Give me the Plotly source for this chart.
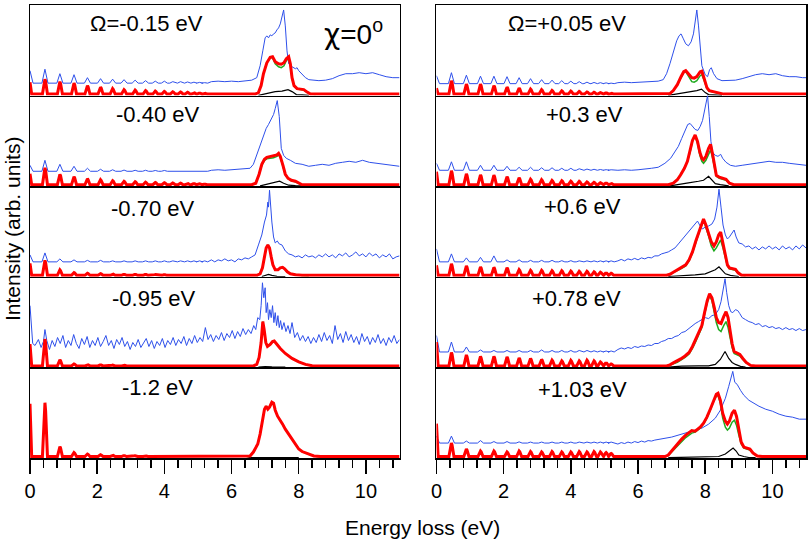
import plotly.graph_objects as go
from plotly.subplots import make_subplots

# ---------------- data (heights in panel units, panel height = 91) ----------------
vib_energy = [0.445, 0.89, 1.31, 1.71, 2.10, 2.46, 2.80, 3.13, 3.44, 3.73, 4.00, 4.25, 4.48, 4.69, 4.88, 5.05, 5.20]

labels = ["Ω=-0.15 eV", "-0.40 eV", "-0.70 eV", "-0.95 eV", "-1.2 eV",
          "Ω=+0.05 eV", "+0.3 eV", "+0.6 eV", "+0.78 eV", "+1.03 eV"]
label_px = [(147, 22), (158, 113), (153, 207), (154, 298), (158, 387),
            (568, 22), (585, 113), (583, 205), (577, 298), (583, 389)]

red_elastic = [12, 11, 12, 22, 53, 6, 13, 10, 24, 33]
blue_elastic = [25, 21, 22, None, None, 20, 23, 28, 32, 22]
blue_base = [12.5, 15, 15, None, None, 12, 16, 15, 15.5, 15]

red_vib_p1 = [15, 12.5, 11, 8.5, 7, 5.5, 4.5, 4, 3.5, 3, 2.7, 2.4, 2.1, 1.8, 1.4, 1.1, 0.8]
red_vib_p2 = [17, 10.5, 8, 6, 5, 4, 3.3, 3, 2.5, 2.2, 2, 1.7, 1.5, 1.2, 1, 0.8, 0.6]
red_vib_p3 = [15, 5.5, 2.7, 2, 1.6, 1.3, 1.1, 1, 0.9, 0.8, 0.7, 0.6, 0.5, 0.4, 0.3, 0.3, 0.2]
red_vib_p4 = [27, 6, 2, 1.3, 1, 0.8, 0.7, 0.6, 0.5, 0.4, 0.4, 0.3, 0.3, 0.2, 0.2, 0.2, 0.1]
red_vib_p5 = [54, 10, 4, 2.5, 1.8, 1.3, 1, 0.8, 0.6, 0.5, 0.4, 0.3, 0.3, 0.2, 0.2, 0.1, 0.1]
red_vib_p6 = [13.5, 10, 10, 8.5, 7, 6, 5, 4.5, 3.7, 3.3, 3, 2.7, 2.2, 1.8, 1.5, 1.2, 0.8]
red_vib_p7 = [14, 11, 10, 9.5, 8, 7, 5.5, 5, 4.3, 4, 3.5, 3.3, 2.8, 2.3, 2, 1.6, 1.2]
red_vib_p8 = [11.5, 9.5, 8.5, 8, 7.5, 5.7, 5, 5, 4.5, 4.5, 4.2, 4, 4, 3.5, 3, 2.5, 2]
red_vib_p9 = [13.5, 11, 9.5, 9.5, 9, 8, 7.5, 6.5, 5.7, 5, 5.5, 5, 5.7, 5, 4, 3, 2]
red_vib_p10 = [13.5, 7.5, 5.5, 5.5, 4.5, 5.5, 5, 4.5, 5, 4.5, 4.5, 5, 4.5, 5, 4.5, 4, 3]

blue_amp_p1 = [14, 9.5, 8.5, 5.5, 4.5, 4, 3.5, 3, 2.5, 2, 2, 1.5, 1.5, 1.2, 1, 0.8, 0.5]
blue_amp_p2 = [11, 7, 5, 3, 2, 1.5, 1.2, 1, 1, 0.8, 0.8, 0.6, 0.5, 0.5, 0.4, 0.3, 0.2]
blue_amp_p3 = [9, 3, 2, 1.5, 1.5, 1, 1, 1, 1, 1, 1, 1, 1, 1, 1, 1, 1]
blue_amp_p6 = [11, 8.5, 7.5, 7.5, 7, 6, 5, 4, 3.5, 3, 2.5, 2, 1.5, 1.2, 1, 0.8, 0.5]
blue_amp_p7 = [8.5, 8.5, 5, 5, 4, 3, 3, 2.5, 2.5, 2, 2, 1.5, 1.2, 1, 0.8, 0.6, 0.5]
blue_amp_p8 = [8, 4, 4.5, 6, 2, 2, 1.5, 1.5, 1.5, 1.2, 1.2, 1, 1, 1, 1, 1, 1]
blue_amp_p9 = [10, 5, 2, 1.5, 1.5, 1.5, 1.5, 2, 1.5, 1.5, 1.5, 1.5, 1.5, 1.2, 1, 1, 1]
blue_amp_p10 = [7, 2, 2.5, 1.5, 1.5, 1.2, 1, 1, 1, 1, 1, 1, 1, 1, 1, 1, 1]

blue_band_p1 = [[5.4,14],[5.6,14.5],[5.8,14],[6.0,14.5],[6.2,14],[6.4,15],[6.6,15.5],[6.75,18],[6.85,30],[6.93,45],[7.0,58],[7.05,60],[7.1,58],[7.15,61],[7.2,60],[7.25,62],[7.3,63],[7.35,66],[7.4,68],[7.45,72],[7.5,78],[7.55,86],[7.6,70],[7.65,45],[7.7,32],[7.75,30],[7.8,29],[7.9,27],[7.95,28],[8.0,25],[8.1,21],[8.2,18],[8.3,16],[8.4,15.5],[8.6,15],[8.8,15.5],[9.0,17],[9.2,20],[9.4,22],[9.6,22],[9.8,23],[10.0,22],[10.2,23],[10.4,21],[10.6,19],[10.8,18],[11.0,18]]
blue_band_p2 = [[5.4,16],[5.6,16.5],[5.8,16],[6.0,16.5],[6.2,17],[6.4,17.5],[6.55,18],[6.65,22],[6.75,32],[6.85,42],[6.95,50],[7.03,58],[7.1,62],[7.18,68],[7.25,72],[7.3,78],[7.36,86],[7.42,70],[7.48,38],[7.55,31],[7.63,28],[7.75,26],[7.9,23],[8.1,22],[8.3,20],[8.5,21],[8.7,22],[8.9,21],[9.1,23],[9.3,24],[9.5,25],[9.7,24],[9.9,26],[10.1,24],[10.3,23],[10.5,22],[10.7,21],[10.9,20],[11.0,20]]
blue_band_p3 = [[5.4,17],[5.5,15],[5.6,17],[5.7,16],[5.8,18],[5.9,16],[6.0,17],[6.1,15],[6.2,18],[6.3,17],[6.4,19],[6.5,18],[6.6,20],[6.7,22],[6.8,32],[6.9,42],[6.98,55],[7.04,62],[7.08,75],[7.1,70],[7.13,87],[7.16,72],[7.2,55],[7.25,40],[7.3,34],[7.36,36],[7.42,33],[7.5,32],[7.6,26],[7.7,23],[7.8,22],[7.9,20],[8.0,21],[8.1,19],[8.2,22],[8.3,20],[8.4,21],[8.5,19],[8.6,22],[8.7,20],[8.8,23],[8.9,20],[9.0,22],[9.1,19],[9.2,23],[9.3,21],[9.4,24],[9.5,20],[9.6,22],[9.7,25],[9.8,21],[9.9,23],[10.0,20],[10.1,24],[10.2,21],[10.3,23],[10.4,19],[10.5,22],[10.6,20],[10.7,23],[10.8,18],[10.9,20],[11.0,21]]
blue_p4 = [[0,62],[0.04,40],[0.08,24],[0.15,22],[0.25,28],[0.33,20],[0.4,26],[0.445,38],[0.5,27],[0.58,18],[0.66,27],[0.74,21],[0.82,30],[0.9,24],[0.98,32],[1.06,20],[1.14,27],[1.22,22],[1.3,33],[1.38,24],[1.46,19],[1.54,29],[1.62,23],[1.7,31],[1.78,20],[1.86,27],[1.94,22],[2.02,30],[2.1,21],[2.18,26],[2.26,32],[2.34,22],[2.42,27],[2.5,19],[2.58,28],[2.66,23],[2.74,30],[2.82,21],[2.9,26],[2.98,18],[3.06,25],[3.14,21],[3.22,28],[3.3,20],[3.38,24],[3.46,29],[3.54,21],[3.62,27],[3.7,19],[3.78,26],[3.86,22],[3.94,29],[4.02,20],[4.1,27],[4.18,23],[4.26,30],[4.34,22],[4.42,28],[4.5,24],[4.58,31],[4.66,22],[4.74,29],[4.82,24],[4.9,32],[4.98,25],[5.06,30],[5.14,26],[5.22,40],[5.3,28],[5.38,33],[5.46,26],[5.54,32],[5.62,28],[5.7,35],[5.78,27],[5.86,34],[5.94,30],[6.02,37],[6.1,29],[6.18,36],[6.26,31],[6.34,39],[6.42,33],[6.5,38],[6.58,34],[6.66,42],[6.72,38],[6.78,50],[6.84,48],[6.88,62],[6.92,85],[6.96,70],[7.0,80],[7.03,55],[7.07,65],[7.1,48],[7.14,58],[7.18,50],[7.22,62],[7.26,45],[7.3,55],[7.34,42],[7.38,52],[7.42,40],[7.46,47],[7.5,38],[7.56,45],[7.62,36],[7.68,42],[7.74,34],[7.8,45],[7.88,30],[7.96,35],[8.04,27],[8.12,32],[8.2,26],[8.28,31],[8.36,24],[8.44,30],[8.52,25],[8.6,33],[8.68,26],[8.76,35],[8.84,27],[8.92,32],[9.0,24],[9.08,42],[9.16,28],[9.24,34],[9.32,25],[9.4,36],[9.48,27],[9.56,33],[9.64,25],[9.72,31],[9.8,23],[9.88,34],[9.96,26],[10.04,31],[10.12,23],[10.2,30],[10.28,25],[10.36,33],[10.44,24],[10.52,29],[10.6,22],[10.68,30],[10.76,25],[10.84,32],[10.92,24],[11.0,28]]
blue_band_p6 = [[5.4,13],[5.6,13.5],[5.8,13],[6.0,13.5],[6.2,14],[6.4,14],[6.6,14.5],[6.75,16],[6.85,22],[6.95,32],[7.05,45],[7.15,55],[7.22,60],[7.28,62],[7.35,57],[7.42,52],[7.5,50],[7.58,54],[7.65,62],[7.7,75],[7.75,86],[7.8,70],[7.85,45],[7.9,30],[8.0,21],[8.07,19],[8.13,26],[8.18,28],[8.25,22],[8.35,17],[8.5,15],[8.7,15],[8.9,15.5],[9.1,17],[9.3,19],[9.5,21],[9.7,22],[9.9,21],[10.1,22],[10.3,20],[10.5,19],[10.7,19],[10.9,18],[11.0,18]]
blue_band_p7 = [[5.4,16],[5.6,16.5],[5.8,16],[6.0,16.5],[6.2,17],[6.4,18],[6.6,19],[6.8,23],[6.97,28],[7.1,35],[7.2,40],[7.3,48],[7.4,56],[7.48,62],[7.55,63],[7.62,60],[7.7,57],[7.78,56],[7.85,60],[7.92,66],[7.98,75],[8.03,85],[8.07,91],[8.12,70],[8.17,45],[8.22,34],[8.3,31],[8.38,30],[8.46,32],[8.52,28],[8.62,24],[8.75,21],[8.9,20],[9.1,21],[9.3,22],[9.5,23],[9.7,24],[9.9,25],[10.1,24],[10.3,24],[10.5,23],[10.7,22],[10.9,21],[11.0,21]]
blue_band_p8 = [[5.4,16],[5.5,17.5],[5.6,16],[5.7,18],[5.8,17],[5.9,18.5],[6.0,17],[6.1,19],[6.2,18],[6.3,19.5],[6.4,19],[6.5,21],[6.6,21],[6.7,23],[6.8,24],[6.9,25],[7.0,27],[7.1,29],[7.2,33],[7.3,37],[7.4,42],[7.5,46],[7.6,49],[7.7,53],[7.77,56],[7.85,51],[7.92,48],[8.0,50],[8.1,51],[8.2,53],[8.28,58],[8.35,70],[8.41,88],[8.47,70],[8.53,52],[8.6,42],[8.66,38],[8.72,40],[8.8,44],[8.86,47],[8.92,40],[9.0,34],[9.1,33],[9.2,30],[9.3,31],[9.4,28],[9.5,30],[9.6,27],[9.7,30],[9.8,28],[9.9,31],[10.0,28],[10.1,30],[10.2,27],[10.3,31],[10.4,28],[10.5,30],[10.6,27],[10.7,31],[10.8,28],[10.9,32],[11.0,29]]
blue_band_p9 = [[5.4,18],[5.5,19.5],[5.6,18.5],[5.7,20],[5.8,19],[5.9,21],[6.0,20],[6.1,21.5],[6.2,21],[6.3,22.5],[6.4,22],[6.5,24],[6.6,24],[6.7,26],[6.8,27],[6.9,29],[7.0,29],[7.1,31],[7.2,32],[7.3,35],[7.4,36],[7.5,39],[7.6,41],[7.7,44],[7.8,46],[7.9,48],[8.0,50],[8.1,49],[8.2,52],[8.3,53],[8.4,58],[8.47,66],[8.54,80],[8.59,89],[8.64,75],[8.7,62],[8.76,56],[8.82,55],[8.9,58],[8.97,57],[9.03,54],[9.1,50],[9.2,48],[9.3,46],[9.4,45],[9.5,43],[9.6,44],[9.7,41],[9.8,42],[9.9,40],[10.0,41],[10.1,39],[10.2,40],[10.3,38],[10.4,40],[10.5,38],[10.6,39],[10.7,37],[10.8,39],[10.9,37],[11.0,38]]
blue_band_p10 = [[5.4,14],[5.5,15.5],[5.6,14.5],[5.7,16],[5.8,15],[5.9,16.5],[6.0,15.5],[6.1,17],[6.2,16],[6.3,17.5],[6.4,17],[6.5,18],[6.6,18.5],[6.7,19],[6.8,20],[6.9,20.5],[7.0,21],[7.1,22],[7.3,24],[7.5,26],[7.7,28],[7.9,30],[8.1,34],[8.3,40],[8.45,48],[8.6,60],[8.7,72],[8.76,80],[8.82,87],[8.88,76],[8.95,74],[9.05,68],[9.15,63],[9.3,58],[9.45,55],[9.6,52],[9.8,49],[10.0,47],[10.2,44],[10.4,42],[10.6,41],[10.8,39],[11.0,39]]

red_band_p1 = [[6.7,1],[6.8,3],[6.88,10],[6.95,22],[7.05,33],[7.15,38.5],[7.22,39],[7.3,34],[7.4,32],[7.48,31.5],[7.56,33],[7.63,37],[7.7,39],[7.75,32],[7.8,18],[7.86,10],[7.95,7],[8.05,6.5],[8.15,6],[8.25,3.5],[8.35,1.5],[8.5,1]]
red_band_p2 = [[6.6,1],[6.72,3],[6.82,12],[6.9,22],[6.98,27],[7.05,29],[7.15,30],[7.25,30.5],[7.35,31.5],[7.4,33],[7.45,30],[7.53,21],[7.6,12],[7.68,8],[7.78,6],[7.9,5],[8.0,3],[8.1,1.2],[8.3,1]]
red_band_p3 = [[6.75,1],[6.85,3],[6.92,9],[6.98,20],[7.03,29],[7.08,32],[7.13,29],[7.18,20],[7.23,12],[7.3,7],[7.38,7],[7.45,9],[7.52,9.5],[7.58,8],[7.66,5],[7.75,3],[7.9,2],[8.1,1.3],[8.3,1]]
red_band_p4 = [[6.65,1],[6.75,3],[6.82,10],[6.88,25],[6.93,46],[6.97,38],[7.02,25],[7.07,21],[7.15,23],[7.22,26],[7.27,26.5],[7.33,24],[7.45,19],[7.6,14],[7.8,9],[8.0,5.5],[8.2,3],[8.4,1.7],[8.6,1.1],[8.8,1]]
red_band_p5 = [[6.45,1],[6.55,2],[6.65,6],[6.72,11],[6.78,14],[6.85,24],[6.92,38],[6.98,49],[7.03,52],[7.08,49],[7.13,51],[7.2,56],[7.25,55],[7.3,48],[7.37,42],[7.45,38],[7.52,34],[7.6,29],[7.7,24],[7.8,18],[7.9,13],[8.0,9],[8.1,6.5],[8.2,5],[8.3,3.5],[8.45,2],[8.65,1]]
red_band_p6 = [[6.85,1],[6.95,2],[7.05,5],[7.17,11],[7.28,19],[7.36,24],[7.42,25],[7.5,22],[7.6,18],[7.67,17.5],[7.75,19],[7.85,24],[7.9,24.5],[7.97,17],[8.05,8],[8.12,5],[8.25,4],[8.35,3.5],[8.45,2],[8.55,1]]
red_band_p7 = [[6.9,1],[7.05,3],[7.17,6.5],[7.27,11.5],[7.38,18],[7.47,25],[7.55,35],[7.62,46],[7.7,51.5],[7.77,45],[7.84,34],[7.9,28],[7.95,26.5],[8.02,30],[8.1,38],[8.16,42],[8.22,32],[8.28,18],[8.33,11],[8.42,9],[8.52,8],[8.62,7],[8.72,3],[8.85,1]]
red_band_p8 = [[6.85,1],[6.95,2.5],[7.05,4.5],[7.17,7],[7.3,9.5],[7.42,12],[7.52,17],[7.62,25],[7.72,36],[7.82,45],[7.9,54],[7.95,58],[8.02,52],[8.1,43],[8.18,35],[8.26,31],[8.33,35],[8.4,42],[8.46,45],[8.52,35],[8.59,23],[8.66,12],[8.72,9],[8.8,8],[8.9,7.5],[8.98,4],[9.08,1.5],[9.2,1]]
red_band_p9 = [[6.85,1],[6.95,2.5],[7.05,4.5],[7.17,6.5],[7.27,8.5],[7.4,11.5],[7.52,15],[7.62,21],[7.72,28],[7.82,36],[7.9,42],[7.98,55],[8.06,67],[8.13,74],[8.2,70],[8.27,60],[8.33,50],[8.4,45],[8.47,44],[8.55,51],[8.62,56],[8.68,50],[8.74,36],[8.8,24],[8.86,16],[8.95,14],[9.03,13],[9.12,9],[9.22,5],[9.35,2],[9.5,1]]
red_band_p10 = [[6.8,1],[6.9,3],[7.0,7],[7.1,11],[7.2,15.5],[7.3,19],[7.42,23],[7.52,26],[7.6,27.5],[7.7,27],[7.77,29],[7.85,31],[7.95,35],[8.05,41],[8.15,49],[8.25,58],[8.33,64],[8.38,65],[8.45,58],[8.52,45],[8.6,37],[8.66,34],[8.72,37],[8.8,45],[8.87,48],[8.93,42],[9.0,28],[9.07,16],[9.15,11],[9.25,10],[9.33,9],[9.42,5],[9.55,2],[9.7,1]]

green_band_p1 = [[6.7,1],[6.8,3],[6.88,10],[6.95,22],[7.05,33],[7.15,38],[7.22,38],[7.3,32],[7.4,29],[7.48,28],[7.56,30],[7.63,35],[7.7,38],[7.75,31],[7.8,17],[7.86,9.5],[7.95,6.5],[8.05,6],[8.15,5.5],[8.25,3.2],[8.35,1.5],[8.5,1]]
green_band_p2 = [[6.6,1],[6.72,3],[6.82,12],[6.9,21],[6.98,26],[7.05,27.5],[7.15,28],[7.25,28.5],[7.35,30],[7.4,31.5],[7.45,29],[7.53,20],[7.6,11.5],[7.68,7.5],[7.78,5.5],[7.9,4.5],[8.0,2.8],[8.1,1.2],[8.3,1]]
green_band_p6 = [[6.85,1],[6.95,2],[7.05,5],[7.17,11],[7.28,18],[7.36,23],[7.42,24],[7.5,19],[7.6,14],[7.67,13.5],[7.75,15],[7.85,20],[7.9,21],[7.97,15],[8.05,7],[8.12,4.5],[8.25,3.5],[8.35,3],[8.45,1.7],[8.55,1]]
green_band_p7 = [[6.9,1],[7.05,3],[7.17,6.5],[7.27,11.5],[7.38,18],[7.47,25],[7.55,34],[7.62,45],[7.7,50.5],[7.77,43],[7.84,31],[7.9,25],[7.95,23],[8.02,26],[8.1,33],[8.16,36.5],[8.22,28],[8.28,16],[8.33,10],[8.42,8],[8.52,7],[8.62,6],[8.72,3],[8.85,1]]
green_band_p8 = [[6.85,1],[6.95,2.5],[7.05,4.5],[7.17,6.5],[7.3,8.5],[7.42,11],[7.52,16],[7.62,24],[7.72,35],[7.82,44],[7.9,53],[7.95,57],[8.02,50],[8.1,41],[8.18,31],[8.26,26],[8.33,29],[8.4,34],[8.46,37],[8.52,30],[8.59,20],[8.66,11],[8.72,8],[8.8,7],[8.9,6.5],[8.98,3.5],[9.08,1.5],[9.2,1]]
green_band_p9 = [[6.85,1],[6.95,2],[7.05,3.5],[7.17,5],[7.27,7],[7.4,10],[7.52,13.5],[7.62,19],[7.72,26],[7.82,34],[7.9,40],[7.98,53],[8.06,65],[8.13,72],[8.2,67],[8.27,55],[8.33,45],[8.4,38],[8.47,36],[8.55,42],[8.62,46],[8.68,40],[8.74,30],[8.8,20],[8.86,14],[8.95,12.5],[9.03,11.5],[9.12,8],[9.22,4.5],[9.35,2],[9.5,1]]
green_band_p10 = [[6.8,1],[6.9,2.5],[7.0,6],[7.1,9.5],[7.2,13.5],[7.3,17],[7.42,20.5],[7.52,23],[7.6,25],[7.7,26],[7.77,27.5],[7.85,30],[7.95,34],[8.05,40],[8.15,48],[8.25,57],[8.33,62],[8.38,63],[8.45,55],[8.52,40],[8.6,31],[8.66,28],[8.72,30],[8.8,36],[8.87,38],[8.93,33],[9.0,23],[9.07,14],[9.15,10],[9.25,9],[9.33,8],[9.42,4.5],[9.55,2],[9.7,1]]

black_band_p1 = [[6.8,0.3],[7.0,2],[7.3,4],[7.5,4.5],[7.68,6],[7.8,4],[7.93,1],[8.1,0.8],[8.3,0.3]]
black_band_p2 = [[6.85,0.3],[7.1,2],[7.3,3.5],[7.43,5],[7.55,3],[7.7,1],[7.9,0.5],[8.1,0.3]]
black_band_p3 = [[6.9,0.3],[7.0,1.5],[7.1,2.5],[7.2,1.5],[7.35,0.5],[7.6,0.3]]
black_band_p4 = [[6.8,0.3],[7.0,0.8],[7.2,0.5],[7.6,0.3]]
black_band_p5 = [[6.5,0.3],[7.2,0.5],[8.0,0.3]]
black_band_p6 = [[6.9,0.3],[7.1,1.5],[7.4,3],[7.6,4],[7.75,5],[7.89,6.5],[8.0,3],[8.1,1],[8.3,0.7],[8.5,0.3]]
black_band_p7 = [[6.95,0.3],[7.2,2],[7.5,3.3],[7.8,5],[7.95,6],[8.1,10],[8.2,6],[8.3,2.5],[8.45,1.5],[8.6,0.5],[8.7,0.3]]
black_band_p8 = [[6.9,0.3],[7.3,1],[7.7,2],[8.0,3],[8.16,5],[8.3,7],[8.41,10],[8.5,7],[8.6,3],[8.75,1.5],[8.9,0.5],[9.0,0.3]]
black_band_p9 = [[6.9,0.3],[7.3,1.2],[7.8,1.5],[8.1,1.5],[8.3,3],[8.45,8],[8.59,16],[8.7,9],[8.8,5],[8.9,3],[9.05,1],[9.2,0.3]]
black_band_p10 = [[6.9,0.3],[7.5,0.8],[8.0,1],[8.4,1.5],[8.6,4],[8.75,8],[8.83,10],[8.92,7],[9.0,3],[9.15,1.5],[9.3,0.5],[9.5,0.3]]

red_vib = [red_vib_p1, red_vib_p2, red_vib_p3, red_vib_p4, red_vib_p5,
           red_vib_p6, red_vib_p7, red_vib_p8, red_vib_p9, red_vib_p10]
red_band = [red_band_p1, red_band_p2, red_band_p3, red_band_p4, red_band_p5,
            red_band_p6, red_band_p7, red_band_p8, red_band_p9, red_band_p10]
green_band = [green_band_p1, green_band_p2, red_band_p3, red_band_p4, red_band_p5,
              green_band_p6, green_band_p7, green_band_p8, green_band_p9, green_band_p10]
black_band = [black_band_p1, black_band_p2, black_band_p3, black_band_p4, black_band_p5,
              black_band_p6, black_band_p7, black_band_p8, black_band_p9, black_band_p10]
blue_amp = [blue_amp_p1, blue_amp_p2, blue_amp_p3, None, None,
            blue_amp_p6, blue_amp_p7, blue_amp_p8, blue_amp_p9, blue_amp_p10]
blue_band = [blue_band_p1, blue_band_p2, blue_band_p3, None, None,
             blue_band_p6, blue_band_p7, blue_band_p8, blue_band_p9, blue_band_p10]

RED_BASE = 1.5

# ---------------- assembling polylines ----------------
def red_curve(i):
    xs, ys = [0, 0.05], [RED_BASE + red_elastic[i], RED_BASE]
    for e, h in zip(vib_energy, red_vib[i]):
        xs += [e - 0.075, e - 0.02, e, e + 0.02, e + 0.075]
        ys += [RED_BASE, RED_BASE + 0.85 * h, RED_BASE + h, RED_BASE + 0.85 * h, RED_BASE]
    xs += [p[0] for p in red_band[i]] + [11]
    ys += [max(p[1], RED_BASE) for p in red_band[i]] + [RED_BASE]
    return xs, ys

def blue_curve(i):
    if i == 3:
        return [p[0] for p in blue_p4], [p[1] for p in blue_p4]
    b = blue_base[i]
    xs, ys = [0, 0.09], [blue_elastic[i], b]
    for e, a in zip(vib_energy, blue_amp[i]):
        xs += [e - 0.09, e, e + 0.09]
        ys += [b, b + a, b]
    xs += [p[0] for p in blue_band[i]]
    ys += [p[1] for p in blue_band[i]]
    return xs, ys

fig = make_subplots(rows=5, cols=2, horizontal_spacing=37 / 777, vertical_spacing=0)

BLUE = "#2e50ea"
RED = "#ff0000"
GREEN = "#1faa1f"

for i in range(10):
    row = i % 5 + 1
    col = i // 5 + 1
    if i != 4:
        bx, by = blue_curve(i)
        fig.add_trace(go.Scatter(x=bx, y=by, mode="lines", line=dict(color=BLUE, width=1)), row=row, col=col)
    fig.add_trace(go.Scatter(x=[p[0] for p in green_band[i]], y=[p[1] for p in green_band[i]],
                             mode="lines", line=dict(color=GREEN, width=1.5)), row=row, col=col)
    fig.add_trace(go.Scatter(x=[p[0] for p in black_band[i]], y=[p[1] for p in black_band[i]],
                             mode="lines", line=dict(color="black", width=1.2)), row=row, col=col)
    rx, ry = red_curve(i)
    fig.add_trace(go.Scatter(x=rx, y=ry, mode="lines", line=dict(color=RED, width=3)), row=row, col=col)

FONT = "Liberation Sans, Arial, Helvetica, sans-serif"

fig.update_xaxes(range=[0, 11], showline=True, mirror=False, linecolor="black", linewidth=1.5,
                 showgrid=False, zeroline=False, ticks="", showticklabels=False)
fig.update_xaxes(row=1, mirror=True)
fig.update_yaxes(range=[0, 91], showline=True, mirror=True, linecolor="black", linewidth=1.5,
                 showgrid=False, zeroline=False, ticks="", showticklabels=False)
for col in (1, 2):
    fig.update_xaxes(row=5, col=col, ticks="outside", ticklen=14, tickwidth=1.5, tickcolor="black",
                     tick0=0, dtick=2, showticklabels=True,
                     tickfont=dict(family=FONT, size=20, color="black"),
                     minor=dict(tick0=0, dtick=0.4, ticks="outside", ticklen=8, tickwidth=1.5,
                                tickcolor="black", showgrid=False))

L, T, W, H = 30, 3, 777, 455

def px2paper(x, y):
    return (x - L) / W, (T + H - y) / H

anns = []
for text, (x, y) in zip(labels, label_px):
    px, py = px2paper(x, y)
    anns.append(dict(text=text, x=px, y=py, xref="paper", yref="paper", showarrow=False,
                     xanchor="center", yanchor="middle", font=dict(family=FONT, size=22, color="black")))
px, py = px2paper(354, 31)
anns.append(dict(text="<span style=\"font-family:DejaVu Sans\">χ</span>=0<sup>o</sup>", x=px, y=py,
                 xref="paper", yref="paper", showarrow=False,
                 xanchor="center", yanchor="middle", font=dict(family=FONT, size=28, color="black")))
px, py = px2paper(12, 228)
anns.append(dict(text="Intensity (arb. units)", x=px, y=py, xref="paper", yref="paper", showarrow=False,
                 textangle=-90, xanchor="center", yanchor="middle", font=dict(family=FONT, size=21, color="black")))
px, py = px2paper(423, 528)
anns.append(dict(text="Energy loss (eV)", x=px, y=py, xref="paper", yref="paper", showarrow=False,
                 xanchor="center", yanchor="middle", font=dict(family=FONT, size=21, color="black")))

fig.update_layout(width=810, height=542, margin=dict(l=L, r=3, t=T, b=542 - T - H),
                  paper_bgcolor="white", plot_bgcolor="white", showlegend=False, annotations=anns,
                  hovermode=False)

fig.write_html("out.html", config={"displayModeBar": False, "staticPlot": True},
               post_script="document.body.style.margin='0';document.body.style.padding='0';")
